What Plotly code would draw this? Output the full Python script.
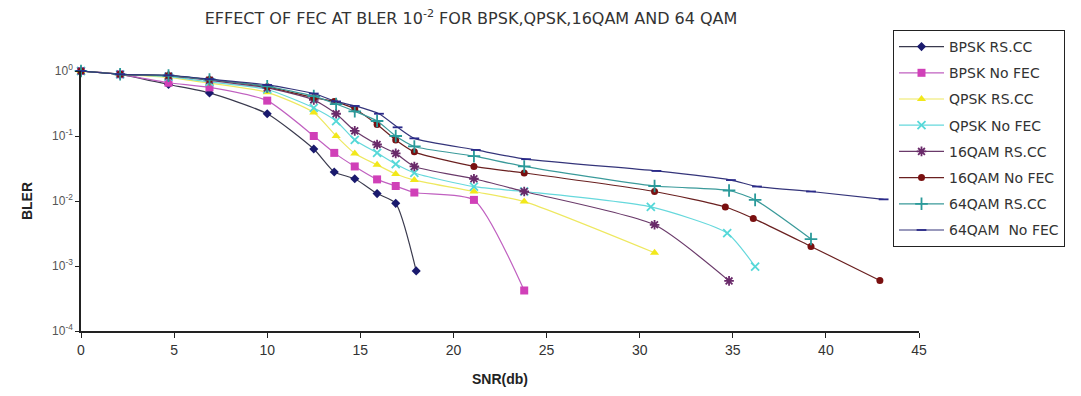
import plotly.graph_objects as go

# SNR (dB) positions of each series
snr_bpsk_rs = [0, 2.1, 4.7, 6.9, 10, 12.5, 13.6, 14.7, 15.9, 16.9, 18.0]
bler_bpsk_rs = [1.0, 0.89, 0.62, 0.46, 0.22, 0.063, 0.028, 0.022, 0.013, 0.0092, 0.00084]

snr_bpsk_no = [0, 2.1, 4.7, 6.9, 10, 12.5, 13.6, 14.7, 15.9, 16.9, 17.9, 21.1, 23.8]
bler_bpsk_no = [1.0, 0.89, 0.66, 0.56, 0.35, 0.10, 0.055, 0.034, 0.0215, 0.017, 0.0135, 0.0104, 0.00042]

snr_qpsk_rs = [0, 2.1, 4.7, 6.9, 10, 12.5, 13.7, 14.7, 15.9, 16.9, 17.9, 21.1, 23.8, 30.8]
bler_qpsk_rs = [1.0, 0.89, 0.80, 0.65, 0.47, 0.23, 0.10, 0.054, 0.036, 0.026, 0.021, 0.014, 0.0098, 0.0016]

snr_qpsk_no = [0, 2.1, 4.7, 6.9, 10, 12.5, 13.7, 14.7, 15.9, 16.9, 17.9, 21.1, 23.8, 30.6, 34.7, 36.2]
bler_qpsk_no = [1.0, 0.89, 0.82, 0.68, 0.52, 0.27, 0.17, 0.087, 0.055, 0.037, 0.027, 0.0166, 0.014, 0.0081, 0.0032, 0.00098]

snr_16_rs = [0, 2.1, 4.7, 6.9, 10, 12.5, 13.7, 14.7, 15.9, 16.9, 17.9, 21.1, 23.8, 30.8, 34.8]
bler_16_rs = [1.0, 0.89, 0.84, 0.72, 0.55, 0.36, 0.22, 0.12, 0.074, 0.054, 0.034, 0.022, 0.014, 0.0043, 0.00059]

snr_16_no = [0, 2.1, 4.7, 6.9, 10, 12.5, 13.6, 14.7, 15.9, 16.9, 17.9, 21.1, 23.8, 30.8, 34.6, 36.1, 39.2, 42.9]
bler_16_no = [1.0, 0.89, 0.85, 0.74, 0.57, 0.39, 0.34, 0.26, 0.15, 0.087, 0.057, 0.034, 0.027, 0.014, 0.0081, 0.0054, 0.002, 0.0006]

snr_64_rs = [0, 2.1, 4.7, 6.9, 10, 12.5, 13.7, 14.7, 15.9, 16.9, 17.9, 21.1, 23.8, 30.8, 34.8, 36.2, 39.2]
bler_64_rs = [1.0, 0.89, 0.85, 0.74, 0.58, 0.41, 0.31, 0.24, 0.17, 0.10, 0.069, 0.049, 0.034, 0.017, 0.0145, 0.0104, 0.0026]

snr_64_no = [0, 2.1, 4.7, 6.9, 10, 12.5, 13.7, 14.7, 16.0, 17.0, 17.9, 21.2, 23.9, 30.9, 34.9, 36.3, 39.2, 43.1]
bler_64_no = [1.0, 0.89, 0.86, 0.75, 0.61, 0.45, 0.34, 0.29, 0.22, 0.136, 0.092, 0.061, 0.044, 0.029, 0.021, 0.0167, 0.014, 0.0106]

series_names = ["BPSK RS.CC", "BPSK No FEC", "QPSK RS.CC", "QPSK No FEC",
                "16QAM RS.CC", "16QAM No FEC", "64QAM RS.CC", "64QAM  No FEC"]
series_x = [snr_bpsk_rs, snr_bpsk_no, snr_qpsk_rs, snr_qpsk_no, snr_16_rs, snr_16_no, snr_64_rs, snr_64_no]
series_y = [bler_bpsk_rs, bler_bpsk_no, bler_qpsk_rs, bler_qpsk_no, bler_16_rs, bler_16_no, bler_64_rs, bler_64_no]

x_ticks = [0, 5, 10, 15, 20, 25, 30, 35, 40, 45]
y_ticks = [1e-4, 1e-3, 1e-2, 1e-1, 1]
y_tick_labels = ["10<sup>-4</sup>", "10<sup>-3</sup>", "10<sup>-2</sup>", "10<sup>-1</sup>", "10<sup>0</sup>"]

marker_colors = ["#1a1a6e", "#d040b8", "#f2e81a", "#55d8d8", "#6a2a6a", "#7a1010", "#2a9a9a", "#2a2a8a"]
line_colors = ["#3a3a4e", "#c060c0", "#eee860", "#66d8dc", "#6a3a6a", "#6a2020", "#3a9a9a", "#34347a"]
symbols = ["diamond", "square", "triangle-up", "x-thin", "asterisk", "circle", "cross-thin", "line-ew"]
sizes = [7, 8, 8, 8, 8, 7, 9, 7]

font_family = "Liberation Sans Narrow, Liberation Sans, Arial, sans-serif"
wide_family = "DejaVu Sans, Verdana, sans-serif"

# page body has an 8px default margin: compensate so the plot lands where the reference has it
OFF = 8
W, H = 1081, 396

fig = go.Figure()
for name, xs, ys, mc, lc, sym, sz in zip(series_names, series_x, series_y, marker_colors, line_colors, symbols, sizes):
    thin = sym in ("x-thin", "asterisk", "cross-thin", "line-ew")
    fig.add_trace(go.Scatter(
        x=xs, y=ys, name=name, legendgroup=name, mode="lines+markers",
        line=dict(color=lc, width=1.2, shape="spline", smoothing=0.6),
        marker=dict(symbol=sym, size=sz, color=mc,
                    line=dict(color=mc, width=1.8 if thin else 0)),
        cliponaxis=False,
    ))

legend_cfg = dict(x=(893 - OFF) / W, xref="container", xanchor="left",
                  y=1 - (30 - OFF) / H, yref="container", yanchor="top",
                  bordercolor="#222", borderwidth=1, bgcolor="white",
                  font=dict(size=14, family=wide_family, color="#333"),
                  tracegroupgap=5, itemwidth=45)

fig.update_layout(
    width=W, height=H,
    paper_bgcolor="white", plot_bgcolor="white",
    margin=dict(l=81 - OFF, r=W - (919 - OFF), t=71 - OFF, b=H - (331 - OFF), autoexpand=False),
    font=dict(family=font_family, size=13, color="#222"),
    title=dict(text="EFFECT OF FEC AT BLER 10<sup>-2</sup> FOR BPSK,QPSK,16QAM AND 64 QAM",
               x=(471 - OFF) / W, xanchor="center", xref="container",
               y=1 - (18 - OFF) / H, yanchor="middle",
               font=dict(size=16, family=wide_family, color="#333")),
    showlegend=True,
    legend=legend_cfg,
    xaxis=dict(range=[0, 45], tickvals=x_ticks,
               showline=True, linecolor="#222", linewidth=1.5, ticks="outside", ticklen=5,
               tickcolor="#222", showgrid=False, zeroline=False,
               tickfont=dict(size=14, family=font_family, color="#333"),
               title=dict(text="<b>SNR(db)</b>", font=dict(size=14, family=font_family, color="#222"), standoff=18)),
    yaxis=dict(type="log", range=[-4, 0], tickvals=y_ticks, ticktext=y_tick_labels,
               showline=True, linecolor="#222", linewidth=1.5, ticks="outside", ticklen=4,
               tickcolor="#222", showgrid=False, zeroline=False,
               tickfont=dict(size=12, family=font_family, color="#555"),
               title=dict(text="<b>BLER</b>", font=dict(size=14, family=font_family, color="#222"), standoff=16)),
)

try:
    fig.update_layout(legend_maxheight=320)
except Exception:
    pass

fig.write_html("out.html")
